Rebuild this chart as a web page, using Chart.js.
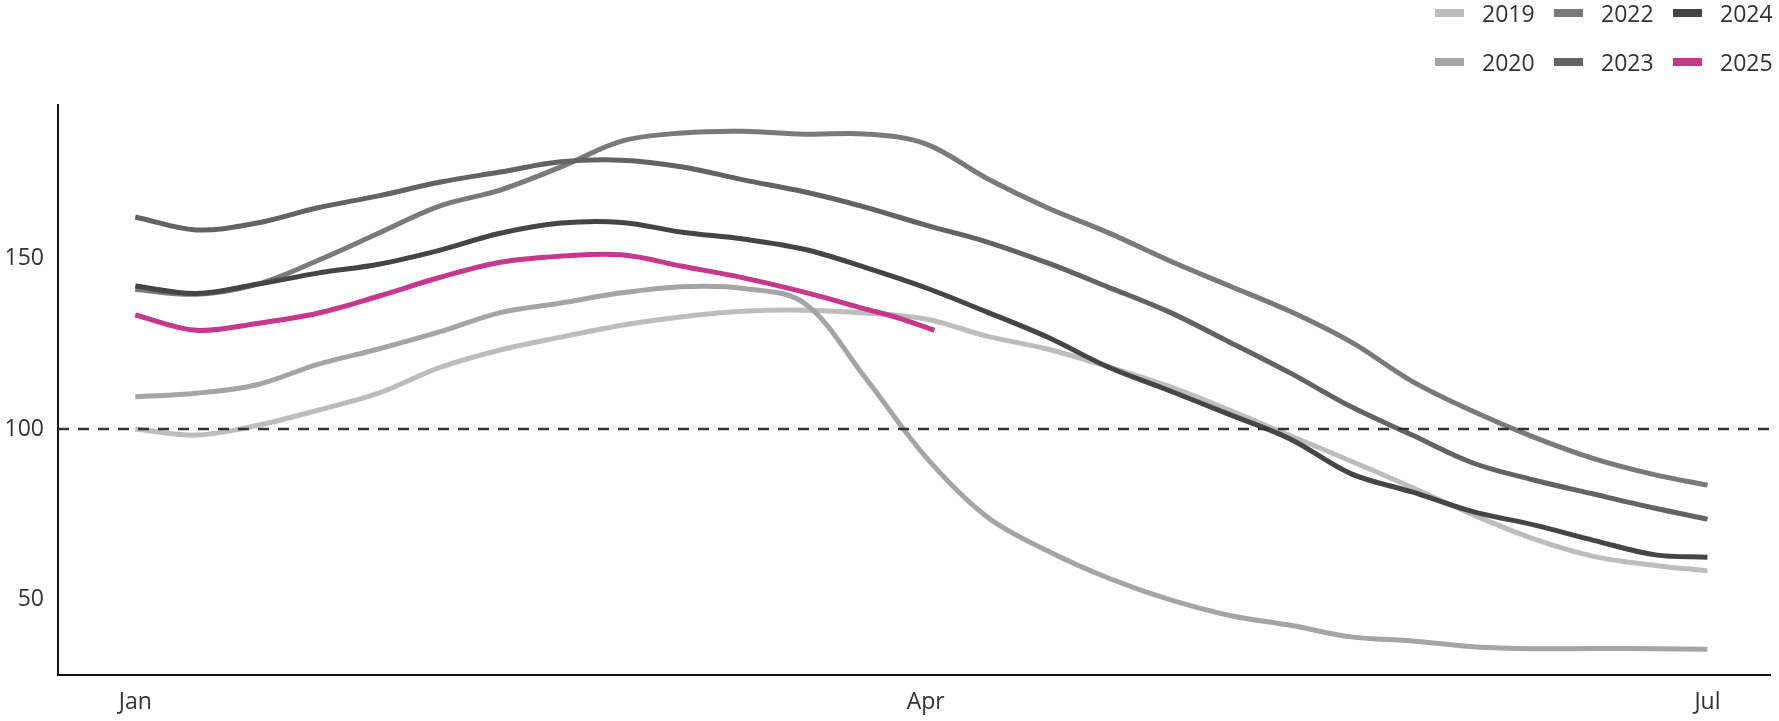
<!DOCTYPE html>
<html>
<head>
<meta charset="utf-8">
<title>Index by year</title>
<script src="https://cdn.jsdelivr.net/npm/chart.js@4/dist/chart.umd.min.js"></script>
<style>
  body { margin: 0; background: #fff; font-family: "Open Sans", sans-serif; }
  #wrap { position: relative; width: 1779px; height: 721px; }
  #legend { position: absolute; top: 0; left: 0; }
  .item { position: absolute; height: 30px; display: flex; align-items: center; color: #333; font-size: 23px; }
  .swatch { width: 29px; height: 8px; margin-right: 18px; }
</style>
</head>
<body>
<div id="wrap">
  <canvas id="myChart" width="1779" height="721"></canvas>
  <div id="legend"></div>
</div>
<script>
// day of year for each sample (0 = 1 Jan)
const days = [0, 7, 14, 21, 28, 35, 42, 49, 56, 63, 70, 77, 84, 91, 98, 105, 112, 119, 126, 133, 140, 147, 154, 161, 168, 175, 181];
// 2025 stops a little after 1 Apr
const days2025 = [0, 7, 14, 21, 28, 35, 42, 49, 56, 63, 70, 77, 84, 88, 92];

const years = ['2019', '2020', '2022', '2023', '2024', '2025'];
const colors = ['#bdbdbd', '#a5a5a5', '#7a7a7a', '#636363', '#454545', '#c7388c'];

const v2019 = [100, 98.2, 101, 105.5, 110.5, 118, 123.2, 127, 130.5, 133, 134.6, 134.9, 134.1, 132.3, 127.3, 123.5, 118.3, 112.5, 105.5, 98, 90.5, 82.8, 74.8, 67.7, 62.5, 59.9, 58.3];
const v2020 = [109.5, 110.5, 113, 119, 123.5, 128.5, 134.2, 137, 140, 141.8, 141.3, 137, 115.2, 91.8, 74.3, 64.2, 56.2, 49.9, 45.2, 42.3, 38.9, 37.7, 36, 35.4, 35.5, 35.4, 35.3];
const v2022 = [141, 139.6, 142.5, 149.5, 157.5, 165.5, 170.2, 177, 184.6, 187, 187.5, 186.6, 186.7, 183.8, 173.7, 165, 157.7, 149.5, 142, 134.5, 125.5, 114, 105.2, 97.6, 91.2, 86.5, 83.5];
const v2023 = [162.3, 158.5, 160.5, 165, 168.5, 172.5, 175.5, 178.5, 179, 177, 173.2, 169.7, 165.2, 159.9, 155, 148.8, 141.7, 134.4, 125.5, 116.4, 106.5, 98.2, 90, 85, 80.8, 76.7, 73.5];
const v2024 = [142, 139.8, 142.5, 145.8, 148.4, 152.5, 157.5, 160.5, 160.7, 157.8, 155.8, 152.8, 147.5, 141.5, 134.4, 127, 118.2, 111.3, 104.2, 97, 86.8, 81.5, 75.7, 71.8, 67.2, 63, 62.3];
const v2025 = [133.5, 129, 131, 134, 139, 144.5, 149, 150.8, 151.2, 147.8, 144.4, 140.2, 135.3, 132.5, 129];

const seriesValues = [v2019, v2020, v2022, v2023, v2024, v2025];
const seriesDays = [days, days, days, days, days, days2025];

const refLevel = 100;
const monthTicks = [0, 91, 181];
const monthLabels = ['Jan', 'Apr', 'Jul'];
const yTicks = [50, 100, 150];

const datasets = years.map((yr, i) => ({
    label: yr,
    data: seriesValues[i].map((v, j) => ({ x: seriesDays[i][j], y: v })),
    borderColor: colors[i],
    borderWidth: 5,
    pointRadius: 0,
    tension: 0.35,
    fill: false,
    order: years.length - i
}));

// dashed line at 100
datasets.push({
    label: 'ref',
    data: [{ x: -8.9, y: refLevel }, { x: 188.2, y: refLevel }],
    borderColor: '#333',
    borderWidth: 2.5,
    borderDash: [11, 9],
    pointRadius: 0,
    order: 0
});

const ctx = document.getElementById('myChart').getContext('2d');
const myChart = new Chart(ctx, {
    type: 'line',
    data: { datasets },
    options: {
        responsive: false,
        animation: false,
        devicePixelRatio: 1,
        layout: { padding: { top: 105, right: 9, left: 0, bottom: 0 } },
        plugins: { legend: { display: false }, tooltip: { enabled: false } },
        scales: {
            x: {
                type: 'linear',
                min: -8.9,
                max: 188.2,
                grid: { display: false, drawTicks: false },
                border: { display: true, color: '#111', width: 2 },
                afterBuildTicks: s => { s.ticks = monthTicks.map(v => ({ value: v })); },
                afterFit: s => { s.height = 46; },
                ticks: {
                    padding: 14,
                    color: '#333',
                    font: { family: 'Open Sans', size: 23 },
                    maxRotation: 0,
                    callback: v => monthLabels[monthTicks.indexOf(v)]
                }
            },
            y: {
                min: 27.7,
                max: 195.2,
                grid: { display: false, drawTicks: false },
                border: { display: true, color: '#111', width: 2 },
                afterBuildTicks: s => { s.ticks = yTicks.map(v => ({ value: v })); },
                afterFit: s => { s.width = 58; },
                ticks: {
                    padding: 14,
                    color: '#333',
                    font: { family: 'Open Sans', size: 23 }
                }
            }
        }
    }
});

// legend: 3 columns, 2 rows
const legendEl = document.getElementById('legend');
const colX = [1435, 1554, 1673];
const rowY = [-2, 47];
years.forEach((yr, i) => {
    const div = document.createElement('div');
    div.className = 'item';
    div.style.left = colX[Math.floor(i / 2)] + 'px';
    div.style.top = rowY[i % 2] + 'px';
    div.innerHTML = '<span class="swatch" style="background:' + colors[i] + '"></span><span>' + yr + '</span>';
    legendEl.appendChild(div);
});
</script>
</body>
</html>
